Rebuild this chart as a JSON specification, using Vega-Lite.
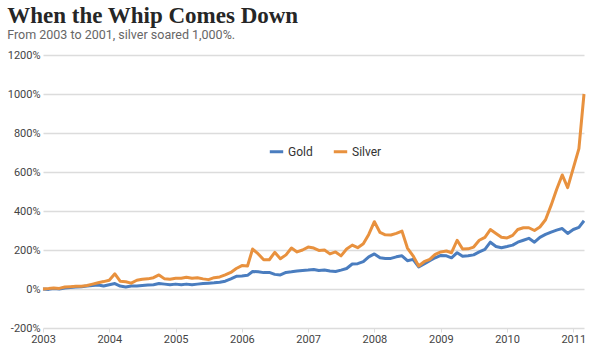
{
  "$schema": "https://vega.github.io/schema/vega-lite/v6.json",
  "width": 600,
  "height": 352,
  "autosize": {"type": "fit", "contains": "padding"},
  "padding": {"left": 7, "top": 4, "right": 14, "bottom": 8},
  "background": "white",
  "title": {
    "text": "When the Whip Comes Down",
    "subtitle": "From 2003 to 2001, silver soared 1,000%.",
    "anchor": "start",
    "frame": "bounds",
    "font": "Liberation Serif",
    "fontSize": 23,
    "fontWeight": "bold",
    "color": "#262626",
    "subtitleFont": "Roboto",
    "subtitleFontSize": 12.5,
    "subtitleColor": "#666666",
    "subtitlePadding": 1,
    "offset": 8
  },
  "data": {
    "values": [
      {"date": "2003-01-01", "Gold": 0, "Silver": 0},
      {"date": "2003-02-01", "Gold": -2, "Silver": 2},
      {"date": "2003-03-01", "Gold": 2, "Silver": 5},
      {"date": "2003-04-01", "Gold": 0, "Silver": 3},
      {"date": "2003-05-01", "Gold": 5, "Silver": 10},
      {"date": "2003-06-01", "Gold": 8, "Silver": 12},
      {"date": "2003-07-01", "Gold": 10, "Silver": 14},
      {"date": "2003-08-01", "Gold": 12, "Silver": 14},
      {"date": "2003-09-01", "Gold": 15, "Silver": 18},
      {"date": "2003-10-01", "Gold": 18, "Silver": 25},
      {"date": "2003-11-01", "Gold": 20, "Silver": 32},
      {"date": "2003-12-01", "Gold": 15, "Silver": 38},
      {"date": "2004-01-01", "Gold": 22, "Silver": 45},
      {"date": "2004-02-01", "Gold": 28, "Silver": 78},
      {"date": "2004-03-01", "Gold": 15, "Silver": 40},
      {"date": "2004-04-01", "Gold": 10, "Silver": 37},
      {"date": "2004-05-01", "Gold": 15, "Silver": 30},
      {"date": "2004-06-01", "Gold": 15, "Silver": 45},
      {"date": "2004-07-01", "Gold": 18, "Silver": 50},
      {"date": "2004-08-01", "Gold": 20, "Silver": 52},
      {"date": "2004-09-01", "Gold": 22, "Silver": 58},
      {"date": "2004-10-01", "Gold": 28, "Silver": 72},
      {"date": "2004-11-01", "Gold": 25, "Silver": 52},
      {"date": "2004-12-01", "Gold": 22, "Silver": 50},
      {"date": "2005-01-01", "Gold": 25, "Silver": 55},
      {"date": "2005-02-01", "Gold": 22, "Silver": 55},
      {"date": "2005-03-01", "Gold": 25, "Silver": 60},
      {"date": "2005-04-01", "Gold": 22, "Silver": 55},
      {"date": "2005-05-01", "Gold": 25, "Silver": 58},
      {"date": "2005-06-01", "Gold": 28, "Silver": 52},
      {"date": "2005-07-01", "Gold": 30, "Silver": 48},
      {"date": "2005-08-01", "Gold": 32, "Silver": 58},
      {"date": "2005-09-01", "Gold": 35, "Silver": 62},
      {"date": "2005-10-01", "Gold": 40, "Silver": 72},
      {"date": "2005-11-01", "Gold": 52, "Silver": 85},
      {"date": "2005-12-01", "Gold": 65, "Silver": 105},
      {"date": "2006-01-01", "Gold": 67, "Silver": 120},
      {"date": "2006-02-01", "Gold": 70, "Silver": 118},
      {"date": "2006-03-01", "Gold": 90, "Silver": 205},
      {"date": "2006-04-01", "Gold": 88, "Silver": 180},
      {"date": "2006-05-01", "Gold": 84, "Silver": 150},
      {"date": "2006-06-01", "Gold": 85, "Silver": 150},
      {"date": "2006-07-01", "Gold": 75, "Silver": 188},
      {"date": "2006-08-01", "Gold": 72, "Silver": 155},
      {"date": "2006-09-01", "Gold": 85, "Silver": 175},
      {"date": "2006-10-01", "Gold": 88, "Silver": 210},
      {"date": "2006-11-01", "Gold": 92, "Silver": 190},
      {"date": "2006-12-01", "Gold": 95, "Silver": 200},
      {"date": "2007-01-01", "Gold": 97, "Silver": 215},
      {"date": "2007-02-01", "Gold": 100, "Silver": 210},
      {"date": "2007-03-01", "Gold": 95, "Silver": 198},
      {"date": "2007-04-01", "Gold": 97, "Silver": 200},
      {"date": "2007-05-01", "Gold": 92, "Silver": 180},
      {"date": "2007-06-01", "Gold": 90, "Silver": 190},
      {"date": "2007-07-01", "Gold": 97, "Silver": 170},
      {"date": "2007-08-01", "Gold": 105, "Silver": 205},
      {"date": "2007-09-01", "Gold": 128, "Silver": 225},
      {"date": "2007-10-01", "Gold": 130, "Silver": 212},
      {"date": "2007-11-01", "Gold": 140, "Silver": 232},
      {"date": "2007-12-01", "Gold": 165, "Silver": 280},
      {"date": "2008-01-01", "Gold": 180, "Silver": 345},
      {"date": "2008-02-01", "Gold": 160, "Silver": 290},
      {"date": "2008-03-01", "Gold": 157, "Silver": 278},
      {"date": "2008-04-01", "Gold": 157, "Silver": 277},
      {"date": "2008-05-01", "Gold": 165, "Silver": 285},
      {"date": "2008-06-01", "Gold": 170, "Silver": 297},
      {"date": "2008-07-01", "Gold": 145, "Silver": 210},
      {"date": "2008-08-01", "Gold": 152, "Silver": 170},
      {"date": "2008-09-01", "Gold": 113, "Silver": 118},
      {"date": "2008-10-01", "Gold": 128, "Silver": 140},
      {"date": "2008-11-01", "Gold": 145, "Silver": 152},
      {"date": "2008-12-01", "Gold": 160, "Silver": 178},
      {"date": "2009-01-01", "Gold": 172, "Silver": 190},
      {"date": "2009-02-01", "Gold": 170, "Silver": 195},
      {"date": "2009-03-01", "Gold": 160, "Silver": 186},
      {"date": "2009-04-01", "Gold": 186, "Silver": 250},
      {"date": "2009-05-01", "Gold": 168, "Silver": 205},
      {"date": "2009-06-01", "Gold": 170, "Silver": 206},
      {"date": "2009-07-01", "Gold": 175, "Silver": 215},
      {"date": "2009-08-01", "Gold": 190, "Silver": 250},
      {"date": "2009-09-01", "Gold": 203, "Silver": 265},
      {"date": "2009-10-01", "Gold": 240, "Silver": 305},
      {"date": "2009-11-01", "Gold": 218, "Silver": 285},
      {"date": "2009-12-01", "Gold": 212, "Silver": 265},
      {"date": "2010-01-01", "Gold": 218, "Silver": 262},
      {"date": "2010-02-01", "Gold": 225, "Silver": 275},
      {"date": "2010-03-01", "Gold": 240, "Silver": 305},
      {"date": "2010-04-01", "Gold": 250, "Silver": 314},
      {"date": "2010-05-01", "Gold": 260, "Silver": 314},
      {"date": "2010-06-01", "Gold": 240, "Silver": 300},
      {"date": "2010-07-01", "Gold": 265, "Silver": 318},
      {"date": "2010-08-01", "Gold": 280, "Silver": 355},
      {"date": "2010-09-01", "Gold": 292, "Silver": 430},
      {"date": "2010-10-01", "Gold": 302, "Silver": 510},
      {"date": "2010-11-01", "Gold": 310, "Silver": 585},
      {"date": "2010-12-01", "Gold": 285, "Silver": 520},
      {"date": "2011-01-01", "Gold": 305, "Silver": 620},
      {"date": "2011-02-01", "Gold": 316, "Silver": 720},
      {"date": "2011-03-01", "Gold": 350, "Silver": 1000}
    ]
  },
  "transform": [{"fold": ["Gold", "Silver"], "as": ["metal", "change"]}],
  "mark": {"type": "line", "strokeWidth": 3, "strokeJoin": "round"},
  "encoding": {
    "x": {
      "field": "date",
      "type": "temporal",
      "title": null,
      "scale": {"nice": false},
      "axis": {
        "format": "%Y",
        "tickCount": {"interval": "year", "step": 1},
        "grid": false,
        "domain": false,
        "ticks": true,
        "tickColor": "#dddddd",
        "tickSize": 4,
        "labelAlign": "center",
        "labelFlush": false,
        "labelFont": "Roboto",
        "labelFontSize": 11,
        "labelColor": "#444444",
        "labelPadding": 1
      }
    },
    "y": {
      "field": "change",
      "type": "quantitative",
      "title": null,
      "scale": {"domain": [-200, 1200], "nice": false, "zero": false},
      "axis": {
        "values": [-200, 0, 200, 400, 600, 800, 1000, 1200],
        "labelExpr": "datum.value + '%'",
        "domain": false,
        "ticks": false,
        "gridColor": "#dcdcdc",
        "gridWidth": 1.5,
        "labelFont": "Roboto",
        "labelFontSize": 11,
        "labelColor": "#444444",
        "labelPadding": 3
      }
    },
    "color": {
      "field": "metal",
      "type": "nominal",
      "scale": {"domain": ["Gold", "Silver"], "range": ["#4a7dbf", "#e8913e"]},
      "legend": {
        "title": null,
        "orient": "none",
        "direction": "horizontal",
        "legendX": 225,
        "legendY": 88,
        "symbolType": "stroke",
        "symbolStrokeWidth": 3,
        "symbolSize": 180,
        "labelFont": "Roboto",
        "labelFontSize": 12,
        "labelColor": "#333333",
        "columnPadding": 14,
        "labelOffset": 3
      }
    }
  },
  "config": {"view": {"stroke": null}}
}
